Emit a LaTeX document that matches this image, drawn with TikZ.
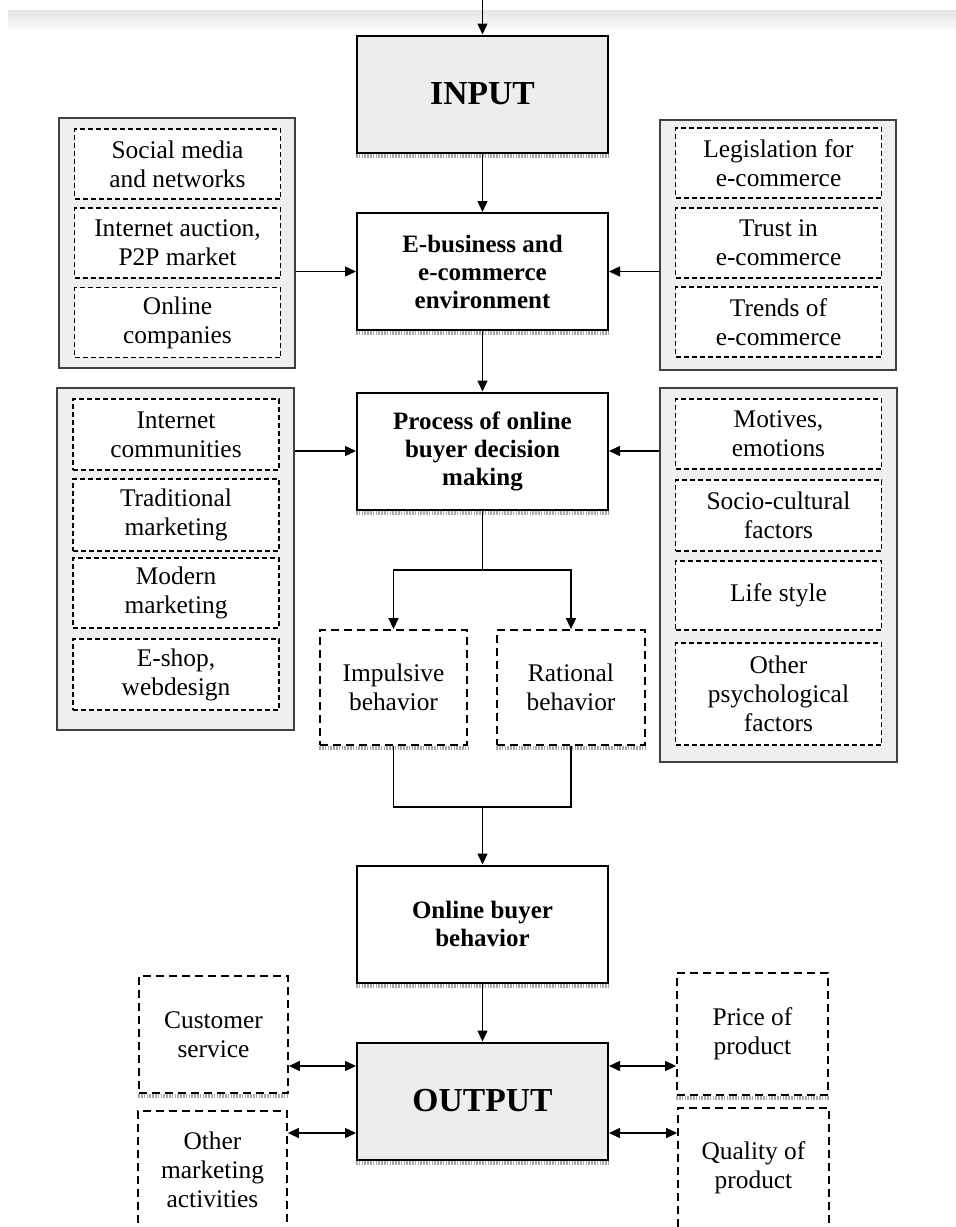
\documentclass[tikz,border=0pt]{standalone}
\usepackage{fontspec}
\setmainfont{Liberation Serif}
\usetikzlibrary{arrows.meta}
\definecolor{panelgray}{HTML}{EEEFEF}
\definecolor{boxgray}{HTML}{ECEEEE}

\begin{document}
\begin{tikzpicture}[x=0.5pt, y=-0.5pt,
    every node/.style={inner sep=0pt, align=center},
    mainbox/.style={draw, line width=1pt, minimum width=125.5pt, minimum height=58.5pt,
        font=\fontsize{12.5}{14}\selectfont\bfseries},
    iobox/.style={mainbox, fill=boxgray, font=\fontsize{16.8}{20}\selectfont\bfseries},
    panel/.style={draw=black!75, fill=panelgray, line width=0.9pt},
    item/.style={draw, fill=white, line width=0.7pt, dash pattern=on 2.5pt off 1.5pt,
        minimum width=103pt, font=\fontsize{12.7}{14.5}\selectfont},
    choice/.style={draw, fill=white, line width=0.9pt, dash pattern=on 4pt off 2.5pt,
        font=\fontsize{12.7}{14.5}\selectfont},
    flow/.style={-{Triangle[length=5.5pt, width=5pt]}, line width=0.7pt},
    both/.style={{Triangle[length=5.5pt, width=5pt]}-{Triangle[length=5.5pt, width=5pt]}, line width=0.7pt},
    shadowline/.style={draw=gray!70, line width=2pt, dash pattern=on 0.8pt off 0.6pt}
]
    \useasboundingbox (0,0) rectangle (956,1227);

    % faint band at the top of the page
    \shade[top color=gray!20, bottom color=white] (8,10) rectangle (956,32);

    % Main column
    \node[iobox] (input) at (482.5,94) {INPUT};
    \node[mainbox] (ebiz) at (482.5,271.5) {E-business and\\e-commerce\\environment};
    \node[mainbox] (process) at (482.5,451) {Process of online\\buyer decision\\making};
    \node[mainbox] (online) at (482.5,924) {Online buyer\\behavior};
    \node[iobox] (output) at (482.5,1101) {OUTPUT};

    % Gray panels
    \node[panel, minimum width=118pt, minimum height=125pt] (envleft) at (177,243) {};
    \node[panel, minimum width=118pt, minimum height=125pt] (envright) at (778,245) {};
    \node[panel, minimum width=118.5pt, minimum height=171pt] (procleft) at (175.5,559) {};
    \node[panel, minimum width=118.5pt, minimum height=187pt] (procright) at (778.5,575) {};

    % Items in the upper panels
    \foreach \y/\txt [count=\i] in {164/{Social media\\and networks},
            243/{Internet auction,\\P2P market}, 322.5/{Online\\companies}} {
        \node[item, minimum height=35pt] (envl\i) at (177.5,\y) {\txt};
    }
    \foreach \y/\txt [count=\i] in {163/{Legislation for\\e-commerce},
            243/{Trust in\\e-commerce}, 322/{Trends of\\e-commerce}} {
        \node[item, minimum height=35pt] (envr\i) at (778.5,\y) {\txt};
    }

    % Items in the lower panels
    \foreach \y/\h/\txt [count=\i] in {434.5/35.5/{Internet\\communities},
            515/36/{Traditional\\marketing}, 593/35/{Modern\\marketing},
            674.5/35.5/{E-shop,\\webdesign}} {
        \node[item, minimum height=\h pt] (procl\i) at (176,\y) {\txt};
    }
    \foreach \y/\h/\txt [count=\i] in {434/35/{Motives,\\emotions},
            515.5/35.5/{Socio-cultural\\factors}, 595.5/34.5/{Life style},
            694/51/{Other\\psychological\\factors}} {
        \node[item, minimum height=\h pt] (procr\i) at (778.5,\y) {\txt};
    }

    % Behaviour boxes
    \node[choice, minimum width=73.5pt, minimum height=57.5pt] (impulsive) at (393.5,687.5) {Impulsive\\behavior};
    \node[choice, minimum width=74pt, minimum height=57.5pt] (rational) at (571,687.5) {Rational\\behavior};

    % Boxes round the output
    \node[choice, minimum width=74.5pt, minimum height=58.5pt] (service) at (213.5,1034.5) {Customer\\service};
    \node[choice, minimum width=74.5pt, minimum height=59pt] (marketing) at (212.5,1170) {Other\\marketing\\activities};
    \node[choice, minimum width=75.5pt, minimum height=61pt] (price) at (752.5,1034) {Price of\\product};
    \node[choice, minimum width=75.5pt, minimum height=60pt] (quality) at (753.5,1168) {Quality of\\product};

    % Shadow strips under the boxes
    \foreach \n in {input, ebiz, process, online, output, impulsive, rational, service, price} {
        \draw[shadowline] ([yshift=-1.2pt]\n.south west) -- ([yshift=-1.2pt]\n.south east);
    }

    % Connectors
    \coordinate (top) at (482.5,0);
    \coordinate (split) at (482.5,570);
    \coordinate (join) at (482.5,807);
    \draw[flow] (top) -- (input);
    \draw[flow] (input) -- (ebiz);
    \draw[flow] (ebiz) -- (process);
    \draw[flow] (envleft.east |- ebiz) -- (ebiz);
    \draw[flow] (envright.west |- ebiz) -- (ebiz);
    \draw[flow] (procleft.east |- process) -- (process);
    \draw[flow] (procright.west |- process) -- (process);
    \draw[line width=0.7pt] (process) -- (split);
    \draw[flow] (split) -| (impulsive);
    \draw[flow] (split) -| (rational);
    \draw[line width=0.7pt] (impulsive) |- (join) -| (rational);
    \draw[flow] (join) -- (online);
    \draw[flow] (online) -- (output);
    \draw[both] (service.east |- 0,1066) -- (output.west |- 0,1066);
    \draw[both] (marketing.east |- 0,1133) -- (output.west |- 0,1133);
    \draw[both] (output.east |- 0,1066) -- (price.west |- 0,1066);
    \draw[both] (output.east |- 0,1133) -- (quality.west |- 0,1133);
\end{tikzpicture}
\end{document}
